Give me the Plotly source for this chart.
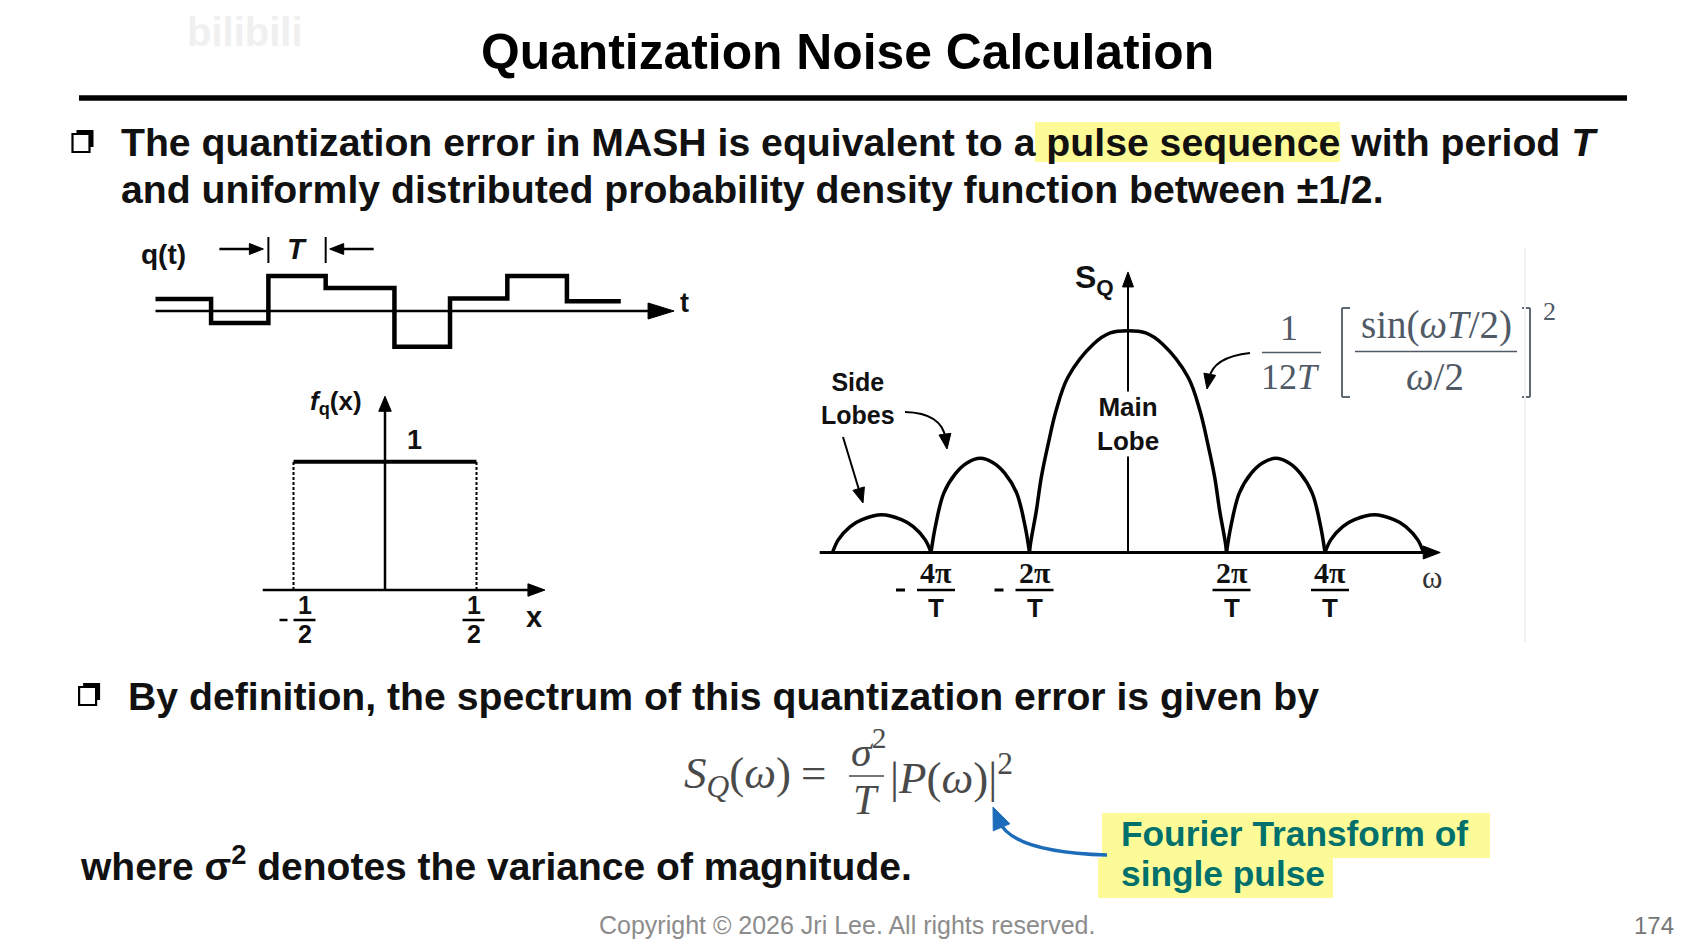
import math
import plotly.graph_objects as go

# ---------------- data ----------------
title_text = "Quantization Noise Calculation"
bullet1_line1 = "The quantization error in MASH is equivalent to a pulse sequence with period <i>T</i>"
bullet1_line2 = "and uniformly distributed probability density function between ±1/2."
bullet2_text = "By definition, the spectrum of this quantization error is given by"
where_text = "where σ<sup>2</sup> denotes the variance of magnitude."
callout_lines = ["Fourier Transform of", "single pulse"]
copyright_text = "Copyright © 2026 Jri Lee. All rights reserved."
page_number = "174"

# q(t): step edges (in periods T) and levels (in LSB)
q_edges = [0.0, 0.97, 1.97, 2.97, 4.17, 5.14, 6.14, 7.18, 8.12]
q_levels = [0.17, -0.17, 0.50, 0.33, -0.51, 0.18, 0.50, 0.14]
q_axis_end = 9.05
period_marker = [2, 3]          # indices of q_edges bracketed by "T"

# f_q(x): uniform pdf
pdf_edges = [-0.5, 0.5]
pdf_value = 1.0
pdf_x_axis = [-0.668, 0.874]
pdf_y_top = 1.51
pdf_ticks = [-0.5, 0.5]

# S_Q(omega): lobes, omega in units of 2*pi/T, height relative to main lobe
lobe_u = [
    [-3.0, -2.94, -2.82, -2.70, -2.50, -2.30, -2.18, -2.06, -2.0],
    [-2.0, -1.955, -1.87, -1.75, -1.635, -1.50, -1.365, -1.25, -1.13, -1.045, -1.0],
    [-1.0, -0.99, -0.93, -0.88, -0.81, -0.73, -0.61, -0.35, -0.18, 0.0,
     0.18, 0.35, 0.61, 0.73, 0.81, 0.88, 0.93, 0.99, 1.0],
    [1.0, 1.045, 1.13, 1.25, 1.365, 1.50, 1.635, 1.75, 1.87, 1.955, 2.0],
    [2.0, 2.06, 2.18, 2.30, 2.50, 2.70, 2.82, 2.94, 3.0],
]
lobe_h = [
    [0.0, 0.058, 0.117, 0.148, 0.170, 0.148, 0.117, 0.058, 0.0],
    [0.0, 0.119, 0.268, 0.357, 0.404, 0.425, 0.404, 0.357, 0.268, 0.119, 0.0],
    [0.0, 0.04, 0.19, 0.34, 0.49, 0.64, 0.79, 0.94, 0.99, 1.0,
     0.99, 0.94, 0.79, 0.64, 0.49, 0.34, 0.19, 0.04, 0.0],
    [0.0, 0.119, 0.268, 0.357, 0.404, 0.425, 0.404, 0.357, 0.268, 0.119, 0.0],
    [0.0, 0.058, 0.117, 0.148, 0.170, 0.148, 0.117, 0.058, 0.0],
]
spec_x_axis = [-3.13, 3.17]
spec_y_top = 1.265
spec_ticks = [-2, -1, 1, 2]
spec_tick_nums = ["4π", "2π", "2π", "4π"]

# ---------------- page geometry ----------------
FIG_W, FIG_H, OFF = 1676, 933, 8
SANS = "Liberation Sans, Arial, sans-serif"
SERIF = "Liberation Serif, Times New Roman, serif"
INK = "#111111"
SLATE = "#4f5a66"
FGRAY = "#4a4a4a"
YELLOW = "#fdfb97"
TEAL = "#00706c"
BLUE = "#1c6cb9"


def PX(x):
    return (x - OFF) / FIG_W


def PY(y):
    return 1.0 - (y - OFF) / FIG_H


class Panel:
    def __init__(self, X0, Y0, sx, sy, box):
        self.X0, self.Y0, self.sx, self.sy, self.box = X0, Y0, sx, sy, box

    def px(self, u, v):
        return (self.X0 + self.sx * u, self.Y0 - self.sy * v)

    def axis_dicts(self, anchor_x, anchor_y):
        xa, xb, ya, yb = self.box
        xd = dict(domain=[PX(xa), PX(xb)],
                  range=[(xa - self.X0) / self.sx, (xb - self.X0) / self.sx],
                  visible=False, fixedrange=True, anchor=anchor_y)
        yd = dict(domain=[PY(yb), PY(ya)],
                  range=[(self.Y0 - yb) / self.sy, (self.Y0 - ya) / self.sy],
                  visible=False, fixedrange=True, anchor=anchor_x)
        return xd, yd


pA = Panel(155.5, 311.0, 57.3, 70.0, (120, 700, 225, 375))
pB = Panel(385.0, 590.0, 183.0, 128.3, (250, 560, 385, 600))
pC = Panel(1128.0, 552.5, 98.5, 221.8, (800, 1460, 255, 575))

shapes = []
anns = []


def seg(x0, y0, x1, y1, w=2, color="#000", dash=None):
    shapes.append(dict(type="line", xref="paper", yref="paper",
                       x0=PX(x0), y0=PY(y0), x1=PX(x1), y1=PY(y1),
                       line=dict(color=color, width=w, dash=dash)))


def rect(x0, y0, x1, y1, fill, lc=None, lw=0, layer="below"):
    shapes.append(dict(type="rect", xref="paper", yref="paper", layer=layer,
                       x0=PX(x0), y0=PY(y1), x1=PX(x1), y1=PY(y0),
                       fillcolor=fill,
                       line=dict(color=lc if lc else fill, width=lw)))


def head(tip, frm, L, Wd, color="#000"):
    dx, dy = tip[0] - frm[0], tip[1] - frm[1]
    n = math.hypot(dx, dy)
    ux, uy = dx / n, dy / n
    bx, by = tip[0] - ux * L, tip[1] - uy * L
    nx, ny = -uy, ux
    p1 = (bx + nx * Wd / 2, by + ny * Wd / 2)
    p2 = (bx - nx * Wd / 2, by - ny * Wd / 2)
    path = "M {} {} L {} {} L {} {} Z".format(PX(tip[0]), PY(tip[1]), PX(p1[0]), PY(p1[1]),
                                            PX(p2[0]), PY(p2[1]))
    shapes.append(dict(type="path", xref="paper", yref="paper", path=path,
                       fillcolor=color, line=dict(color=color, width=1)))
    return (tip[0] - ux * L * 0.7, tip[1] - uy * L * 0.7)


def arrow(p0, tip, L, Wd, w=2, color="#000"):
    base = head(tip, p0, L, Wd, color)
    seg(p0[0], p0[1], base[0], base[1], w, color)


def curved_arrow(p0, c, tip, L, Wd, w=2, color="#000"):
    base = head(tip, c, L, Wd, color)
    path = "M {} {} Q {} {} {} {}".format(PX(p0[0]), PY(p0[1]), PX(c[0]), PY(c[1]),
                                         PX(base[0]), PY(base[1]))
    shapes.append(dict(type="path", xref="paper", yref="paper", path=path,
                       line=dict(color=color, width=w)))


def text(s, x, y, size, color=INK, xanchor="center", yanchor="middle",
         family=SANS, bg=None):
    a = dict(text=s, x=PX(x), y=PY(y), xref="paper", yref="paper", showarrow=False,
             xanchor=xanchor, yanchor=yanchor, borderpad=0,
             font=dict(family=family, size=size, color=color))
    if bg:
        a["bgcolor"] = bg
    anns.append(a)


# ---------------- header ----------------
text("<b>bilibili</b>", 245, 32, 40, color="#f0f0f0")
text("<b>" + title_text + "</b>", 847, 52, 49.8, color="#000")
seg(79, 98, 1627, 98, 5.5)

# bullet boxes (drop-shadowed squares)
for cx, cy in [(83, 141), (89.6, 694)]:
    rect(cx - 6.5, cy - 11, cx + 10.5, cy + 6, "#000", layer="above")
    rect(cx - 10.5, cy - 7, cx + 6.5, cy + 11, "#ffffff", lc="#000", lw=2.2, layer="above")

# bullet 1
rect(1035, 122, 1340, 162, YELLOW)
text("<b>" + bullet1_line1 + "</b>", 120, 142, 39.2, xanchor="left")
text("<b>" + bullet1_line2 + "</b>", 120, 190, 39.2, xanchor="left")

# ---------------- q(t) ----------------
ax0 = pA.px(0, 0)
axe = pA.px(q_axis_end, 0)
arrow(ax0, axe, 26, 16, w=2.5)
text("<b>t</b>", axe[0] + 10, axe[1] - 8, 27)
text("<b>q(t)</b>", 163, 255, 28)
xl = pA.px(q_edges[period_marker[0]], 0)[0]
xr = pA.px(q_edges[period_marker[1]], 0)[0]
ym = 249
seg(xl, 237, xl, 263, 2)
seg(xr, 237, xr, 263, 2)
arrow((xl - 49, ym), (xl - 5, ym), 14, 11, w=2.5)
arrow((xr + 48, ym), (xr + 4, ym), 14, 11, w=2.5)
text("<b><i>T</i></b>", (xl + xr) / 2, ym, 29)

# ---------------- f_q(x) ----------------
b0 = pB.px(pdf_x_axis[0], 0)
b1 = pB.px(pdf_x_axis[1], 0)
arrow(b0, b1, 17, 12.5, w=2.5)
v0 = pB.px(0, 0)
v1 = pB.px(0, pdf_y_top)
arrow(v0, v1, 15, 12.5, w=2.5)
text("<b><i>f</i><sub>q</sub>(x)</b>", 336, 402, 26)
top_y = pB.px(0, pdf_value)[1]
text("<b>1</b>", 414, top_y - 22, 27)
text("<b>x</b>", 534, 617, 29)
for t in pdf_ticks:
    X = pB.px(t, 0)[0]
    fc = X + 11 if t < 0 else X - 3
    text("<b>1</b>", fc, 605, 25)
    seg(fc - 11, 620, fc + 11, 620, 2.5)
    text("<b>2</b>", fc, 634, 25)
    if t < 0:
        seg(X - 14, 620, X - 6, 620, 2.5)

# ---------------- S_Q(omega) ----------------
c0 = pC.px(spec_x_axis[0], 0)
c1 = pC.px(spec_x_axis[1], 0)
arrow(c0, c1, 17, 13, w=3)
s0 = pC.px(0, 0)
s1 = pC.px(0, spec_y_top)
arrow(s0, s1, 15, 11, w=2)
text("<b>S<sub>Q</sub></b>", 1094, 279, 32)
text("<b>Main<br>Lobe</b>", s0[0], 424, 26, bg="#ffffff")
text("<b>Side<br>Lobes</b>", 858, 398, 25)
arrow((843, 437), (863, 503), 15, 12, w=2)
curved_arrow((905, 412), (942, 413), (947, 449), 15, 12, w=2)
curved_arrow((1250, 353), (1213, 357), (1207, 389), 15, 12, w=2)
text("ω", c1[0] - 8, 577, 31, color="#333", family=SERIF)
for t, num in zip(spec_ticks, spec_tick_nums):
    X = pC.px(t, 0)[0]
    fc = X + 5
    text("<b>" + num + "</b>", fc, 572, 30, family=SERIF)
    seg(fc - 19, 590, fc + 19, 590, 2.5)
    text("<b>T</b>", fc, 608, 26)
    if t < 0:
        seg(X - 35, 590, X - 26, 590, 3)

# formula next to the spectrum
text("1", 1289, 328, 36, color=SLATE, family=SERIF)
seg(1262, 352.5, 1321, 352.5, 1.6, SLATE)
text("12<i>T</i>", 1290, 377, 36, color=SLATE, family=SERIF)
for xb, d in [(1342, 1), (1530, -1)]:
    seg(xb, 308, xb, 397, 1.8, SLATE)
    seg(xb, 308, xb + 8 * d, 308, 1.8, SLATE)
    seg(xb, 397, xb + 8 * d, 397, 1.8, SLATE)
text("sin(<i>ωT</i>/2)", 1436, 325, 39, color=SLATE, family=SERIF)
seg(1355, 351.5, 1517, 351.5, 1.6, SLATE)
text("<i>ω</i>/2", 1435, 376, 39, color=SLATE, family=SERIF)
text("2", 1549, 311, 26, color=SLATE, family=SERIF)
seg(1525, 248, 1525, 642, 2, "#f2f2f2")

# ---------------- bullet 2 ----------------
text("<b>" + bullet2_text + "</b>", 127, 696, 39.2, xanchor="left")
text("<i>S</i><sub><i>Q</i></sub>(<i>ω</i>)", 792, 776, 45, color=FGRAY,
     xanchor="right", family=SERIF)
text("=", 813.5, 773, 45, color=FGRAY, family=SERIF)
text("<i>σ</i><sup>2</sup>", 868, 748, 42, color=FGRAY, family=SERIF)
seg(849, 776, 884, 776, 1.6, FGRAY)
text("<i>T</i>", 866, 800, 42, color=FGRAY, family=SERIF)
text("|<i>P</i>(<i>ω</i>)|<sup>2</sup>", 889, 774, 45, color=FGRAY,
     xanchor="left", family=SERIF)
text("<b>" + where_text + "</b>", 79, 863, 39, xanchor="left")

rect(1102, 813, 1490, 858, YELLOW)
rect(1098, 858, 1333, 898, YELLOW)
text("<b>" + callout_lines[0] + "</b>", 1120, 833, 35.3, color=TEAL, xanchor="left")
text("<b>" + callout_lines[1] + "</b>", 1120, 873, 35.3, color=TEAL, xanchor="left")
curved_arrow((1107, 855), (1012, 852), (993, 807), 22, 18, w=3.5, color=BLUE)

text(copyright_text, 847, 925, 25, color="#8c8c8c")
text(page_number, 1675, 925, 24, color="#777777", xanchor="right")

# ---------------- traces ----------------
fig = go.Figure()
fig.add_trace(go.Scatter(x=q_edges, y=q_levels + [q_levels[-1]], mode="lines",
                         line=dict(shape="hv", width=4.5, color="#000"),
                         xaxis="x", yaxis="y", hoverinfo="skip"))
fig.add_trace(go.Scatter(x=pdf_edges, y=[pdf_value, pdf_value], mode="lines",
                         line=dict(width=4, color="#000"),
                         xaxis="x2", yaxis="y2", hoverinfo="skip"))
for e in pdf_edges:
    fig.add_trace(go.Scatter(x=[e, e], y=[0, pdf_value], mode="lines",
                             line=dict(width=2, color="#000", dash="3px,2px"),
                             xaxis="x2", yaxis="y2", hoverinfo="skip"))
for lu, lh in zip(lobe_u, lobe_h):
    fig.add_trace(go.Scatter(x=lu, y=lh, mode="lines",
                             line=dict(shape="spline", width=3.5, color="#000"),
                             xaxis="x3", yaxis="y3", hoverinfo="skip"))

xA, yA = pA.axis_dicts("x", "y")
xB, yB = pB.axis_dicts("x2", "y2")
xC, yC = pC.axis_dicts("x3", "y3")

fig.update_layout(
    width=FIG_W, height=FIG_H,
    margin=dict(l=0, r=0, t=0, b=0, pad=0),
    paper_bgcolor="#ffffff", plot_bgcolor="rgba(0,0,0,0)",
    showlegend=False,
    xaxis=xA, yaxis=yA, xaxis2=xB, yaxis2=yB, xaxis3=xC, yaxis3=yC,
    shapes=shapes, annotations=anns,
)

fig.write_html("out.html", config={"displayModeBar": False})
